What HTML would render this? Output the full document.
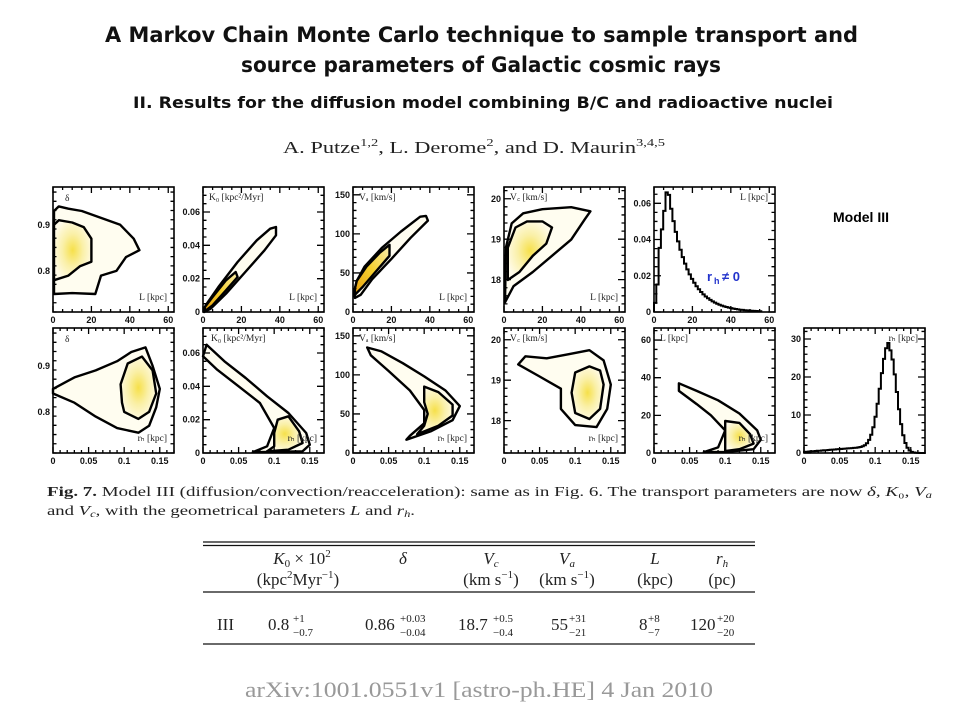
<!DOCTYPE html>
<html><head><meta charset="utf-8"><style>
body{margin:0;background:#fff;width:960px;height:720px;overflow:hidden}
svg{display:block}
.t{font-family:"Liberation Sans",sans-serif;font-weight:bold;fill:#111}
.h{font-family:"DejaVu Sans",sans-serif;font-weight:bold;fill:#111}
.s{font-family:"Liberation Serif",serif;fill:#222}
</style></head><body>
<svg id="g" width="960" height="720" xmlns="http://www.w3.org/2000/svg">
<defs>
<radialGradient id="yel" cx="50%" cy="50%" r="55%"><stop offset="0" stop-color="#f6e04a"/><stop offset="0.5" stop-color="#faf0a8"/><stop offset="1" stop-color="#fffbe8"/></radialGradient>
<linearGradient id="org" x1="0" y1="1" x2="1" y2="0"><stop offset="0" stop-color="#e8a010"/><stop offset="0.5" stop-color="#f5d030"/><stop offset="1" stop-color="#fbf0b0"/></linearGradient>
</defs>
<text class="h" x="105" y="42" font-size="21" textLength="753" lengthAdjust="spacingAndGlyphs">A Markov Chain Monte Carlo technique to sample transport and</text>
<text class="h" x="241" y="72" font-size="21" textLength="480" lengthAdjust="spacingAndGlyphs">source parameters of Galactic cosmic rays</text>
<text class="h" x="133" y="108" font-size="16" textLength="700" lengthAdjust="spacingAndGlyphs">II. Results for the diffusion model combining B/C and radioactive nuclei</text>
<text class="s" x="283" y="153" font-size="17" textLength="382" lengthAdjust="spacingAndGlyphs">A. Putze<tspan font-size="11" dy="-7">1,2</tspan><tspan dy="7">, L. Derome</tspan><tspan font-size="11" dy="-7">2</tspan><tspan dy="7">, and D. Maurin</tspan><tspan font-size="11" dy="-7">3,4,5</tspan></text>
<text class="t" x="861" y="222" text-anchor="middle" font-size="14" style="fill:#000">Model III</text>
<text class="s" x="47" y="496" font-size="13.5" textLength="885" lengthAdjust="spacingAndGlyphs"><tspan font-weight="bold">Fig. 7.</tspan> Model III (diffusion/convection/reacceleration): same as in Fig. 6. The transport parameters are now <tspan font-style="italic">δ</tspan>, <tspan font-style="italic">K</tspan>₀, <tspan font-style="italic">V</tspan><tspan font-size="9" dy="2" font-style="italic">a</tspan></text>
<text class="s" x="47" y="515" font-size="13.5" textLength="368" lengthAdjust="spacingAndGlyphs">and <tspan font-style="italic">V</tspan><tspan font-size="9" dy="2" font-style="italic">c</tspan><tspan dy="-2">, with the geometrical parameters </tspan><tspan font-style="italic">L</tspan> and <tspan font-style="italic">r</tspan><tspan font-size="9" dy="2" font-style="italic">h</tspan><tspan dy="-2">.</tspan></text>
<g stroke="#111" stroke-width="1.2">
<line x1="203" y1="542" x2="755" y2="542"/><line x1="203" y1="545.5" x2="755" y2="545.5"/>
<line x1="203" y1="592" x2="755" y2="592"/><line x1="203" y1="644" x2="755" y2="644"/>
</g>
<g class="s" font-size="17" text-anchor="middle">
<text x="302" y="564"><tspan font-style="italic">K</tspan><tspan font-size="11" dy="3">0</tspan><tspan dy="-3"> × 10</tspan><tspan font-size="11" dy="-7">2</tspan></text>
<text x="298" y="585">(kpc<tspan font-size="11" dy="-7">2</tspan><tspan dy="7">Myr</tspan><tspan font-size="11" dy="-7">−1</tspan><tspan dy="7">)</tspan></text>
<text x="403" y="564" font-style="italic">δ</text>
<text x="491" y="564"><tspan font-style="italic">V</tspan><tspan font-size="11" dy="3" font-style="italic">c</tspan></text>
<text x="491" y="585">(km s<tspan font-size="11" dy="-7">−1</tspan><tspan dy="7">)</tspan></text>
<text x="567" y="564"><tspan font-style="italic">V</tspan><tspan font-size="11" dy="3" font-style="italic">a</tspan></text>
<text x="567" y="585">(km s<tspan font-size="11" dy="-7">−1</tspan><tspan dy="7">)</tspan></text>
<text x="655" y="564" font-style="italic">L</text>
<text x="655" y="585">(kpc)</text>
<text x="722" y="564"><tspan font-style="italic">r</tspan><tspan font-size="11" dy="3" font-style="italic">h</tspan></text>
<text x="722" y="585">(pc)</text>
</g>
<g class="s" font-size="17">
<text x="217" y="630">III</text>
<text x="268" y="630">0.8</text><text x="293" y="622" font-size="11">+1</text><text x="293" y="636" font-size="11">−0.7</text>
<text x="365" y="630">0.86</text><text x="400" y="622" font-size="11">+0.03</text><text x="400" y="636" font-size="11">−0.04</text>
<text x="458" y="630">18.7</text><text x="493" y="622" font-size="11">+0.5</text><text x="493" y="636" font-size="11">−0.4</text>
<text x="551" y="630">55</text><text x="569" y="622" font-size="11">+31</text><text x="569" y="636" font-size="11">−21</text>
<text x="639" y="630">8</text><text x="648" y="622" font-size="11">+8</text><text x="648" y="636" font-size="11">−7</text>
<text x="690" y="630">120</text><text x="717" y="622" font-size="11">+20</text><text x="717" y="636" font-size="11">−20</text>
</g>
<text x="245" y="697" font-family="Liberation Serif,serif" font-size="22" fill="#999" textLength="468" lengthAdjust="spacingAndGlyphs">arXiv:1001.0551v1  [astro-ph.HE]  4 Jan 2010</text>
<g id="panels"></g>
</svg>
<script>
const NS="http://www.w3.org/2000/svg";
const G=document.getElementById('panels');
function el(t,a,txt){const e=document.createElementNS(NS,t);for(const k in a)e.setAttribute(k,a[k]);if(txt!==undefined)e.textContent=txt;G.appendChild(e);return e;}
const W=121,H=125;
function panel(px,py,xr,yr,xt,yt,xminor,yminor,label,hist,shapes){
  const X=v=>px+(v-xr[0])/(xr[1]-xr[0])*W, Y=v=>py+H-(v-yr[0])/(yr[1]-yr[0])*H;
  (shapes||[]).forEach(s=>{
    const d='M'+s.p.map(q=>X(q[0]).toFixed(1)+','+Y(q[1]).toFixed(1)).join('L')+'Z';
    el('path',{d:d,fill:s.f||'none',stroke:'#000','stroke-width':s.w||2.4,'stroke-linejoin':'round'});
  });
  if(hist&&hist.length){
    let d='M'+X(hist[0][0])+','+Y(0);
    for(let i=0;i<hist.length;i++){const [a,b]=hist[i];const nx=i+1<hist.length?hist[i+1][0]:a+(a-hist[i-1][0]);d+='L'+X(a).toFixed(1)+','+Y(b).toFixed(1)+'L'+X(nx).toFixed(1)+','+Y(b).toFixed(1);}
    el('path',{d:d,fill:'none',stroke:'#000','stroke-width':2});
  }
  el('rect',{x:px,y:py,width:W,height:H,fill:'none',stroke:'#000','stroke-width':1.6});
  let tk='';
  for(let v=xr[0];v<=xr[1]+1e-9;v+=xminor){const x=X(v);const maj=xt.some(t=>Math.abs(t-v)<xminor/3);const l=maj?6:3;
    tk+=`M${x},${py+H}v${-l}M${x},${py}v${l}`;}
  for(let v=yr[0];v<=yr[1]+1e-9;v+=yminor){const y=Y(v);const maj=yt.some(t=>Math.abs(t-v)<yminor/3);const l=maj?7:3.5;
    tk+=`M${px},${y}h${l}M${px+W},${y}h${-l}`;}
  el('path',{d:tk,stroke:'#000','stroke-width':1.3,fill:'none'});
  xt.forEach(v=>el('text',{x:X(v),y:py+H+11,'text-anchor':'middle',class:'t','font-size':9},String(v)));
  yt.forEach(v=>el('text',{x:px-3,y:Y(v)+3,'text-anchor':'end',class:'t','font-size':9},String(v)));
  if(label) label.forEach(l=>el('text',{x:px+l[1],y:py+l[2],class:'s','font-size':9.5,'text-anchor':l[3]||'start',fill:'#444'},l[0]));
}
const xL=[0,63],xR=[0,0.17];
const tL=[0,20,40,60],tR=[0,0.05,0.1,0.15];
const yD=[0.711,0.982],yK=[0,0.075],yV=[0,160],yC=[17.21,20.3],yH=[0,0.069],yLL=[0,66.4],yRh=[0,32.9];
const T1=187,T2=328,xs=[53,203,353,504,654,804];
panel(xs[0],T1,xL,yD,tL,[0.8,0.9],5,0.02,[["δ",12,14],["L [kpc]",114,113,"end"]],null,[
 {p:[[0.5,0.75],[10,0.752],[22,0.75],[25,0.79],[33,0.8],[38,0.83],[45,0.845],[42,0.87],[35,0.9],[25,0.915],[15,0.93],[8,0.935],[3,0.94],[0.5,0.93]],f:'#fffdf0'},
 {p:[[0.5,0.78],[8,0.79],[14,0.81],[20,0.82],[20,0.87],[16,0.895],[10,0.905],[3,0.91],[0.5,0.9]],f:'url(#yel)'}]);
panel(xs[1],T1,xL,yK,tL,[0,0.02,0.04,0.06],5,0.005,[["K₀ [kpc²/Myr]",6,13],["L [kpc]",114,113,"end"]],null,[
 {p:[[0.5,0],[4,0.002],[12,0.011],[22,0.024],[32,0.037],[38,0.046],[38,0.051],[35,0.05],[28,0.043],[18,0.03],[8,0.015],[2,0.005],[0.5,0.002]],f:'#fffdf0'},
 {p:[[1,0.0005],[5,0.004],[12,0.013],[18,0.021],[17,0.024],[12,0.019],[5,0.009],[1,0.003]],f:'url(#org)'}]);
panel(xs[2],T1,xL,yV,tL,[0,50,100,150],5,10,[["Vₐ [km/s]",6,13],["L [kpc]",114,113,"end"]],null,[
 {p:[[1,18],[4,22],[10,42],[20,68],[30,95],[39,117],[38,123],[35,122],[25,103],[15,82],[6,58],[2,40],[0.8,28]],f:'#fffdf0'},
 {p:[[1,22],[5,32],[12,52],[19,72],[19,86],[14,76],[7,58],[2,40],[1,30]],f:'url(#org)'}]);
panel(xs[3],T1,xL,yC,tL,[18,19,20],5,0.2,[["V꜀ [km/s]",6,13],["L [kpc]",114,113,"end"]],null,[
 {p:[[0.5,17.45],[5,17.85],[15,18.2],[25,18.6],[35,19.0],[42,19.5],[45,19.7],[35,19.8],[20,19.75],[10,19.65],[4,19.4],[1,18.8]],f:'#fffdf0'},
 {p:[[2,18.0],[8,18.2],[15,18.6],[22,18.9],[25,19.3],[20,19.45],[12,19.45],[6,19.3],[2,18.8]],f:'url(#yel)'}]);
(function(){let h=[];for(let x=0;x<56;x+=1.2){let v;if(x<7)v=0.005+x*0.0085+(x>2?0.01:0);else v=0.066*Math.exp(-(x-7)/9.5);v=Math.min(v,0.066);h.push([x,v]);}
panel(xs[4],T1,xL,yH,tL,[0,0.02,0.04,0.06],5,0.005,[["L [kpc]",114,13,"end"]],h,[]);})();
el('text',{x:xs[4]+53,y:T1+94,class:'t','font-size':13,style:'fill:#2233cc'},'r');
el('text',{x:xs[4]+60,y:T1+97,class:'t','font-size':9,style:'fill:#2233cc'},'h');
el('text',{x:xs[4]+68,y:T1+94,class:'t','font-size':13,style:'fill:#2233cc'},'≠ 0');
panel(xs[0],T2,xR,yD,tR,[0.8,0.9],0.01,0.02,[["δ",12,14],["rₕ [kpc]",114,113,"end"]],null,[
 {p:[[0.0,0.84],[0.03,0.82],[0.06,0.79],[0.09,0.765],[0.12,0.755],[0.135,0.77],[0.145,0.81],[0.15,0.85],[0.14,0.9],[0.13,0.94],[0.11,0.93],[0.09,0.91],[0.06,0.89],[0.03,0.875],[0.0,0.85]],f:'#fffdf0'},
 {p:[[0.1,0.8],[0.12,0.785],[0.135,0.8],[0.145,0.84],[0.14,0.89],[0.125,0.92],[0.105,0.905],[0.095,0.86],[0.097,0.82]],f:'url(#yel)'}]);
panel(xs[1],T2,xR,yK,tR,[0,0.02,0.04,0.06],0.01,0.005,[["K₀ [kpc²/Myr]",8,13],["rₕ [kpc]",114,113,"end"]],null,[
 {p:[[0.005,0.065],[0.03,0.055],[0.06,0.045],[0.09,0.034],[0.12,0.024],[0.145,0.012],[0.15,0.005],[0.14,0.001],[0.07,0.0005],[0.09,0.004],[0.1,0.015],[0.08,0.03],[0.05,0.04],[0.02,0.05],[0.0,0.058]],f:'#fffdf0'},
 {p:[[0.1,0.012],[0.105,0.02],[0.12,0.022],[0.135,0.013],[0.14,0.006],[0.12,0.002],[0.09,0.001],[0.1,0.004]],f:'url(#yel)'}]);
panel(xs[2],T2,xR,yV,tR,[0,50,100,150],0.01,10,[["Vₐ [km/s]",6,13],["rₕ [kpc]",114,113,"end"]],null,[
 {p:[[0.02,135],[0.04,130],[0.07,115],[0.1,98],[0.13,80],[0.15,60],[0.14,42],[0.11,28],[0.075,17],[0.08,22],[0.1,38],[0.1,55],[0.08,80],[0.05,105],[0.025,125]],f:'#fffdf0'},
 {p:[[0.1,85],[0.12,78],[0.14,62],[0.14,48],[0.12,35],[0.09,24],[0.1,35],[0.105,50],[0.1,65]],f:'url(#yel)'}]);
panel(xs[3],T2,xR,yC,tR,[18,19,20],0.01,0.2,[["V꜀ [km/s]",6,13],["rₕ [kpc]",114,113,"end"]],null,[
 {p:[[0.02,19.4],[0.05,19.1],[0.08,18.8],[0.08,18.3],[0.1,17.9],[0.13,17.85],[0.145,18.3],[0.15,18.9],[0.14,19.5],[0.12,19.75],[0.09,19.65],[0.06,19.55],[0.03,19.6]],f:'#fffdf0'},
 {p:[[0.1,18.2],[0.12,18.05],[0.135,18.3],[0.14,18.9],[0.135,19.25],[0.12,19.35],[0.1,19.2],[0.095,18.7]],f:'url(#yel)'}]);
panel(xs[4],T2,xR,yLL,tR,[0,20,40,60],0.01,5,[["L [kpc]",6,13],["rₕ [kpc]",114,113,"end"]],null,[
 {p:[[0.035,37],[0.06,33],[0.09,28],[0.12,21],[0.145,12],[0.15,7],[0.14,2],[0.1,0.5],[0.07,0.5],[0.09,3],[0.1,12],[0.08,20],[0.06,26],[0.035,33]],f:'#fffdf0'},
 {p:[[0.1,17],[0.12,16],[0.135,10],[0.14,5],[0.12,2],[0.1,1],[0.1,6]],f:'url(#yel)'}]);
(function(){let h=[];for(let x=0;x<0.17;x+=0.003){let v;if(x<0.118)v=0.3+x*15+27*Math.exp(-Math.pow((x-0.118)/0.017,2));else v=27.5*Math.exp(-Math.pow((x-0.118)/0.015,2));h.push([x,Math.max(v,0)]);}
panel(xs[5],T2,xR,yRh,tR,[0,10,20,30],0.01,2,[["rₕ [kpc]",114,13,"end"]],h,[]);})();
</script>
</body></html>
